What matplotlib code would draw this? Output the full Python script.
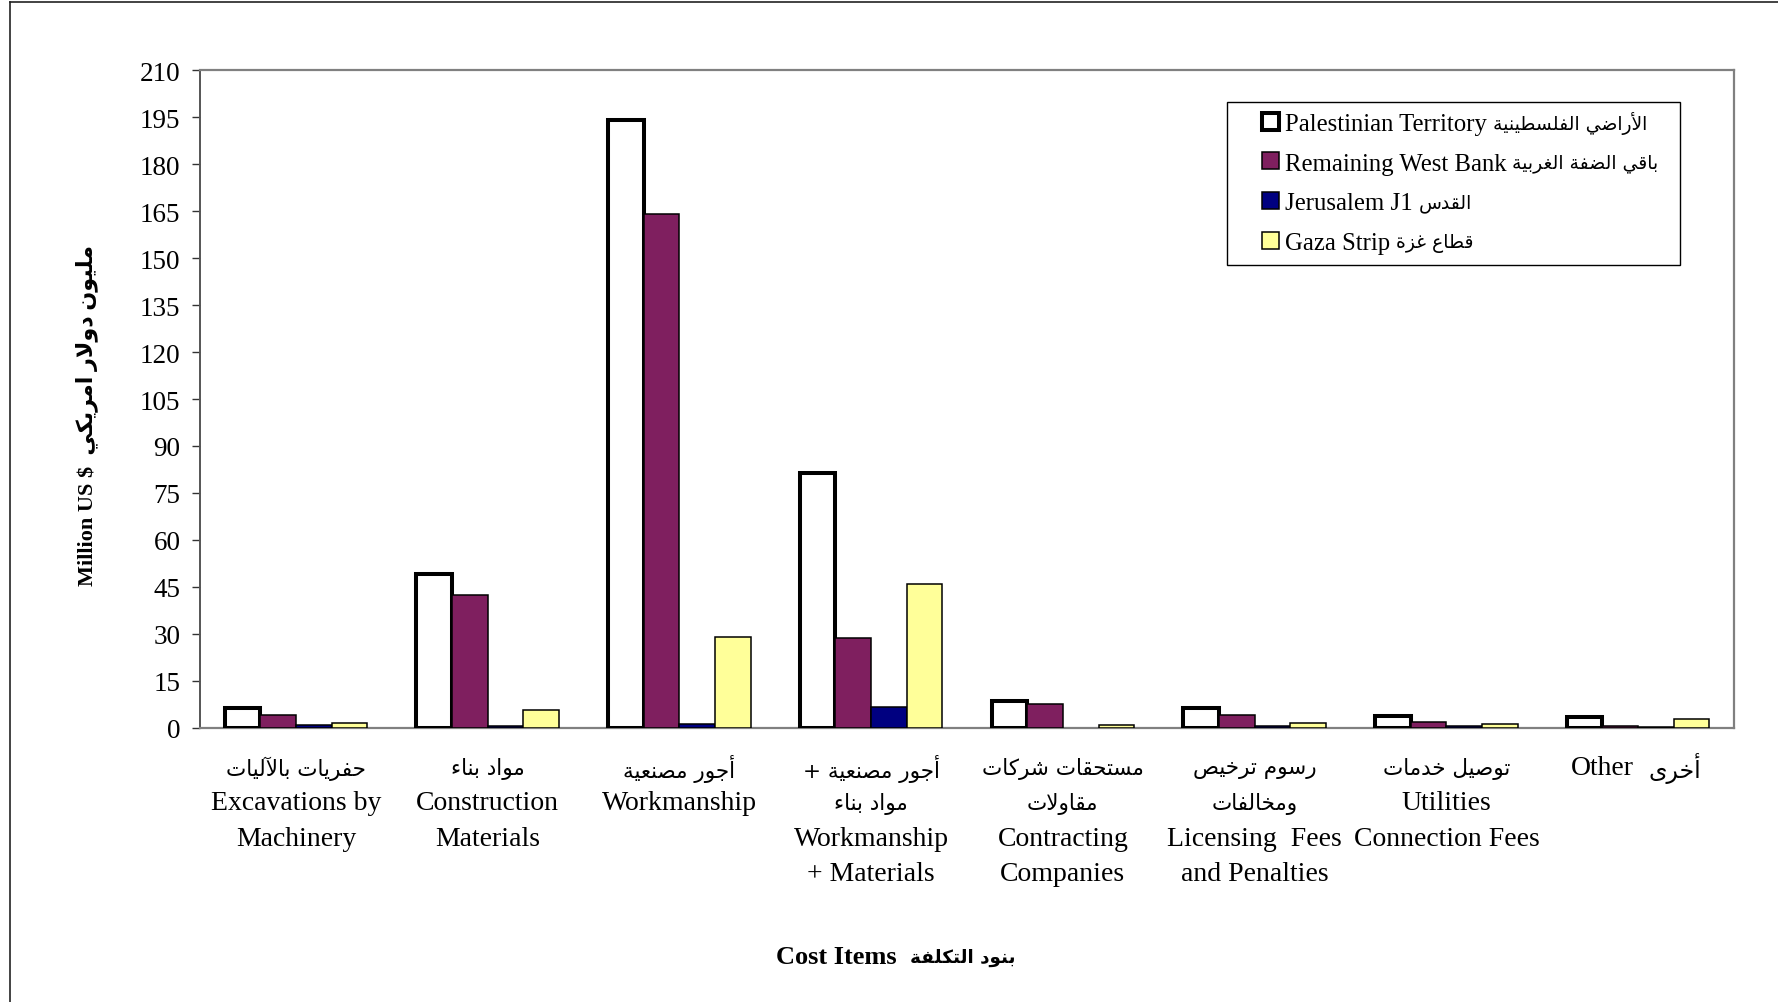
import numpy as np
import matplotlib
matplotlib.use("Agg")
import matplotlib.pyplot as plt
from matplotlib.lines import Line2D
from matplotlib.patches import Rectangle
from matplotlib.container import BarContainer
from matplotlib.legend_handler import HandlerPatch

# ---------------- Arabic shaping helper (presentation forms + visual order) -------------
_FORMS = {
    '\u0621': (0xFE80, 1), '\u0622': (0xFE81, 2), '\u0623': (0xFE83, 2), '\u0624': (0xFE85, 2),
    '\u0625': (0xFE87, 2), '\u0626': (0xFE89, 4), '\u0627': (0xFE8D, 2), '\u0628': (0xFE8F, 4),
    '\u0629': (0xFE93, 2), '\u062A': (0xFE95, 4), '\u062B': (0xFE99, 4), '\u062C': (0xFE9D, 4),
    '\u062D': (0xFEA1, 4), '\u062E': (0xFEA5, 4), '\u062F': (0xFEA9, 2), '\u0630': (0xFEAB, 2),
    '\u0631': (0xFEAD, 2), '\u0632': (0xFEAF, 2), '\u0633': (0xFEB1, 4), '\u0634': (0xFEB5, 4),
    '\u0635': (0xFEB9, 4), '\u0636': (0xFEBD, 4), '\u0637': (0xFEC1, 4), '\u0638': (0xFEC5, 4),
    '\u0639': (0xFEC9, 4), '\u063A': (0xFECD, 4), '\u0641': (0xFED1, 4), '\u0642': (0xFED5, 4),
    '\u0643': (0xFED9, 4), '\u0644': (0xFEDD, 4), '\u0645': (0xFEE1, 4), '\u0646': (0xFEE5, 4),
    '\u0647': (0xFEE9, 4), '\u0648': (0xFEED, 2), '\u0649': (0xFEEF, 2), '\u064A': (0xFEF1, 4),
}
_LAMALEF = {'\u0622': 0xFEF5, '\u0623': 0xFEF7, '\u0625': 0xFEF9, '\u0627': 0xFEFB}


def ar(s):
    chars = list(s)
    n = len(chars)
    out = []
    prev = None
    i = 0
    while i < n:
        c = chars[i]
        if c not in _FORMS:
            out.append(c)
            prev = None
            i += 1
            continue
        base, k = _FORMS[c]
        pj = prev is not None and prev in _FORMS and _FORMS[prev][1] == 4
        if c == '\u0644' and i + 1 < n and chars[i + 1] in _LAMALEF:
            out.append(chr(_LAMALEF[chars[i + 1]] + (1 if pj else 0)))
            prev = chars[i + 1]
            i += 2
            continue
        nxt = chars[i + 1] if i + 1 < n else None
        nj = k == 4 and nxt is not None and nxt in _FORMS and _FORMS[nxt][1] > 1
        if k == 1:
            form = base
        elif pj and nj:
            form = base + 3
        elif pj:
            form = base + 1
        elif nj:
            form = base + 2
        else:
            form = base
        out.append(chr(form))
        prev = c
        i += 1
    return ''.join(reversed(out))


# ---------------- data ----------------
categories_ar = [
    ["حفريات بالآليات"],
    ["مواد بناء"],
    ["أجور مصنعية"],
    ["+ |أجور مصنعية", "مواد بناء"],
    ["مستحقات شركات", "مقاولات"],
    ["رسوم ترخيص", "ومخالفات"],
    ["توصيل خدمات"],
    [],
]
categories_en = [
    ["Excavations by", "Machinery"],
    ["Construction", "Materials"],
    ["Workmanship"],
    ["Workmanship", "+ Materials"],
    ["Contracting", "Companies"],
    ["Licensing  Fees", "and Penalties"],
    ["Utilities", "Connection Fees"],
    [],
]
other_en, other_ar = "Other", "أخرى"

series_en = ["Palestinian Territory", "Remaining West Bank", "Jerusalem J1", "Gaza Strip"]
series_ar = ["الأراضي الفلسطينية", "باقي الضفة الغربية", "القدس", "قطاع غزة"]
palestinian_territory = [6.3, 49.0, 194.3, 81.4, 8.5, 6.4, 3.6, 3.4]
remaining_west_bank = [3.9, 42.5, 164.0, 28.8, 7.6, 4.1, 1.8, 0.4]
jerusalem_j1 = [1.0, 0.7, 1.3, 6.5, 0.0, 0.7, 0.7, 0.3]
gaza_strip = [1.4, 5.8, 29.1, 45.9, 0.9, 1.5, 1.2, 2.7]

y_ticks = list(range(0, 211, 15))

series = [palestinian_territory, remaining_west_bank, jerusalem_j1, gaza_strip]
colors = ['#FFFFFF', '#7F1F5F', '#000080', '#FFFF99']
edge_lw = [2.9, 1.1, 1.1, 1.1]

SERIF = 'Liberation Serif'
ARFONT = 'DejaVu Sans'
MIX = [SERIF, ARFONT]

W, H = 1778, 1003
fig = plt.figure(figsize=(W / 100, H / 100), dpi=100)
ax_l, ax_r, ax_t, ax_b = 200.0, 1734.0, 71.4, 728.7
AW, AH = ax_r - ax_l, ax_b - ax_t
ax = fig.add_axes([ax_l / W, 1 - ax_b / H, AW / W, AH / H])

x = np.arange(len(palestinian_territory))
bw = 0.186
for j, (vals, col, lw) in enumerate(zip(series, colors, edge_lw)):
    lws = [lw if v > 0 else 0 for v in vals]
    ax.bar(x + (j - 1.5) * bw, vals, width=bw, color=col, edgecolor='black',
           linewidth=lws, label=series_en[j], zorder=3)

ax.set_xlim(-0.5, len(x) - 0.5)
ax.set_ylim(0, 210)
ax.set_yticks(y_ticks)
ax.set_yticklabels([str(t) for t in y_ticks], fontfamily=SERIF, fontsize=19.5)
ax.tick_params(axis='y', direction='out', length=6, width=1, color='#333333', pad=8)
ax.set_xticks(x)
ax.set_xticklabels([''] * len(x))
ax.tick_params(axis='x', length=0)
for s in ['top', 'right', 'bottom']:
    ax.spines[s].set_color('#808080')
    ax.spines[s].set_linewidth(1.6)
ax.spines['left'].set_color('#555555')
ax.spines['left'].set_linewidth(1.4)

# category labels
xt = ax.get_xaxis_transform()
px2pt = 0.72
first, step = 40, 35.3
for i in range(len(x)):
    k = 0
    for line in categories_ar[i]:
        if '|' in line:
            pre, a = line.split('|')
            txt = pre + ar(a)
        else:
            txt = ar(line)
        ax.annotate(txt, xy=(i, 0), xycoords=xt, xytext=(0, -(first + step * k) * px2pt),
                    textcoords='offset points', ha='center', va='center',
                    fontfamily=ARFONT, fontsize=15.5)
        k += 1
    for line in categories_en[i]:
        ax.annotate(line, xy=(i, 0), xycoords=xt, xytext=(0, -(first + step * k) * px2pt),
                    textcoords='offset points', ha='center', va='center',
                    fontfamily=SERIF, fontsize=20)
        k += 1
# "Other" category (mixed single line)
ax.annotate(other_en, xy=(7, 0), xycoords=xt, xytext=(-4 * px2pt, -first * px2pt),
            textcoords='offset points', ha='right', va='center', fontfamily=SERIF, fontsize=20)
ax.annotate(ar(other_ar), xy=(7, 0), xycoords=xt, xytext=(10 * px2pt, -first * px2pt),
            textcoords='offset points', ha='left', va='center', fontfamily=ARFONT, fontsize=17)

# axis titles
ax.set_xlabel("Cost Items", fontfamily=SERIF, fontweight='bold', fontsize=19,
              va='center', ha='right')
xl_y = (ax_b - 957.6) / AH
ax.xaxis.set_label_coords((897 - ax_l) / AW, xl_y)
ax.text((910.5 - ax_l) / AW, xl_y, ar("بنود التكلفة"), transform=ax.transAxes,
        ha='left', va='center', fontfamily=ARFONT, fontweight='bold', fontsize=13.2)

ax.set_ylabel("Million US $  " + ar("مليون دولار امريكي"), fontfamily=MIX, fontweight='bold',
              fontsize=16, va='center')
ax.yaxis.set_label_coords((87 - ax_l) / AW, (ax_b - 415.4) / AH)


# legend
def square_patch(legend, orig_handle, xdescent, ydescent, width, height, fontsize):
    s = 12.2
    return Rectangle((-xdescent + width - s, -ydescent + (height - s) / 2), s, s)


def copy_first_bar(tgt, src):
    children = list(src.get_children())
    if children:
        tgt.update_from(children[0])


lx0 = (1226.5 - ax_l) / AW
lx1 = (1679.5 - ax_l) / AW
ly1 = (ax_b - 103) / AH
leg = ax.legend(loc='upper left', bbox_to_anchor=(lx0, ly1 - 0.3, lx1 - lx0, 0.3),
                mode='expand', borderaxespad=0, fancybox=False, frameon=True,
                edgecolor='black', prop={'family': SERIF, 'size': 17.8},
                handlelength=1.70, handleheight=0.7, handletextpad=0.24,
                labelspacing=0.71, borderpad=0.42, framealpha=1,
                handler_map={BarContainer: HandlerPatch(patch_func=square_patch,
                                                        update_func=copy_first_bar)})
leg.get_frame().set_linewidth(1.0)
leg.set_zorder(5)

fig.canvas.draw()
renderer = fig.canvas.get_renderer()
for t, a in zip(leg.get_texts(), series_ar):
    bb = t.get_window_extent(renderer)
    fig.text((bb.x1 + 6) / W, (bb.y0 + bb.y1) / 2 / H + 0.001, ar(a), ha='left', va='center',
             fontfamily=ARFONT, fontsize=13.5, zorder=10)

# outer frame lines of the image
fig.add_artist(Line2D([10 / W, 1], [1 - 3 / H, 1 - 3 / H], transform=fig.transFigure,
                      color='#222222', lw=1.2))
fig.add_artist(Line2D([10 / W, 10 / W], [0, 1 - 3 / H], transform=fig.transFigure,
                      color='#222222', lw=1.2))

fig.savefig('out.png', dpi=100, facecolor='white')
